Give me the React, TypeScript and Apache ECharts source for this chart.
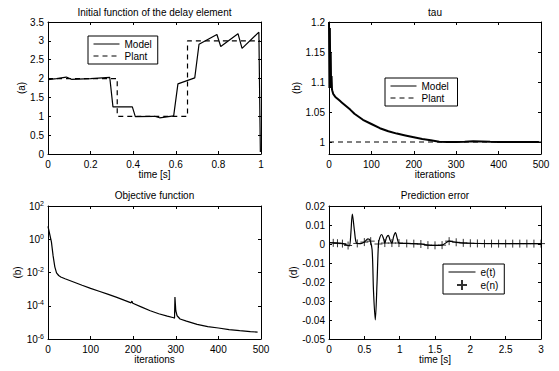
import React, { useEffect, useRef } from 'react';
import * as echarts from 'echarts';

const FONT = '"Liberation Sans", Arial, Helvetica, sans-serif';

// (a) Initial function of the delay element
const delayTime = [0, 0.04, 0.086, 0.11, 0.2, 0.29, 0.305, 0.396, 0.41, 0.5, 0.524, 0.59, 0.61, 0.689, 0.709, 0.793, 0.811, 0.892, 0.911, 0.99, 0.997];
const delayModel = [1.97, 2.0, 2.04, 1.98, 2.0, 2.03, 1.25, 1.25, 0.99, 1.0, 0.96, 1.01, 1.86, 2.02, 2.91, 3.17, 2.85, 3.19, 2.8, 3.23, 0.05];
const plantTime = [0, 0.325, 0.325, 0.655, 0.655, 0.995];
const plantValue = [2, 2, 1, 1, 3, 3];

// (b) tau
const tauIter = [0, 1, 2, 3, 4, 5, 6, 7, 8, 10, 12, 15, 20, 25, 30, 40, 50, 60, 70, 80, 100, 120, 140, 160, 180, 200, 220, 240, 260, 280, 300, 320, 340, 360, 380, 400, 420, 440, 460, 480, 495];
const tauModel = [1.2, 1.09, 1.19, 1.1, 1.15, 1.09, 1.11, 1.088, 1.085, 1.08, 1.078, 1.075, 1.072, 1.069, 1.066, 1.06, 1.054, 1.047, 1.042, 1.037, 1.03, 1.023, 1.018, 1.014, 1.011, 1.008, 1.005, 1.003, 1.0005, 1.0, 1.0, 1.0005, 1.0012, 1.001, 1.0005, 1.0002, 1.0, 1.0, 1.0, 1.0, 1.0];
const tauPlantIter = [0, 500];
const tauPlant = [1, 1];
const tauTicks = [1, 1.05, 1.1, 1.15, 1.2];

// (c) Objective function
const objIter = [0, 4, 8, 12, 16, 20, 25, 30, 40, 60, 80, 100, 120, 140, 160, 180, 195, 197, 199, 220, 240, 260, 280, 295, 297, 298, 300, 303, 310, 325, 350, 375, 400, 425, 450, 475, 492];
const objValue = [6, 2, 0.7, 0.1, 0.022, 0.0095, 0.0066, 0.0054, 0.0042, 0.0027, 0.0017, 0.0011, 7.4e-4, 5e-4, 3.3e-4, 2.1e-4, 1.5e-4, 1.9e-4, 1.4e-4, 8.3e-5, 5e-5, 3.3e-5, 2.4e-5, 1.9e-5, 1.8e-5, 3.4e-4, 5e-5, 2.5e-5, 1.6e-5, 1.2e-5, 7.6e-6, 5.6e-6, 4.6e-6, 3.7e-6, 3.2e-6, 2.8e-6, 2.6e-6];

// (d) Prediction error
const errTime = [0, 0.1, 0.2, 0.27, 0.29, 0.31, 0.33, 0.36, 0.39, 0.45, 0.5, 0.55, 0.58, 0.61, 0.63, 0.655, 0.68, 0.7, 0.72, 0.745, 0.77, 0.79, 0.815, 0.84, 0.865, 0.89, 0.915, 0.94, 0.965, 0.99, 1.1, 1.3, 1.4, 1.5, 1.6, 1.7, 1.8, 2.0, 2.5, 3.0];
const errValue = [0.0008, 0.0005, 0.0002, -0.0008, -0.001, 0.006, 0.0158, 0.007, 0.0005, 0.0002, 0.001, 0.0027, 0.002, -0.003, -0.025, -0.04, -0.02, 0, 0.0035, 0.005, 0.003, 0.0005, 0.0035, 0.0045, 0.002, 0.0005, 0.004, 0.006, 0.003, 0.0005, 0.0003, 0, -0.0006, -0.0007, -0.0006, 0.0015, 0.0009, 0.0004, 0.0002, 0.0002];
const sampTime = [0.06, 0.12, 0.19, 0.27, 0.4, 0.5, 0.59, 0.7, 0.79, 0.89, 0.99, 1.1, 1.2, 1.3, 1.4, 1.5, 1.6, 1.7, 1.8, 1.9, 2.0, 2.1, 2.2, 2.3, 2.4, 2.5, 2.6, 2.7, 2.8, 2.9, 3.0];
const sampValue = [0.0006, 0.0004, 0.0002, -0.0008, 0.0003, 0.001, 0.0015, 0, 0.0005, 0.0005, 0.0005, 0.0003, 0.0002, 0, -0.0006, -0.0007, -0.0006, 0.0015, 0.0009, 0.0006, 0.0004, 0.0003, 0.0002, 0.0002, 0.0002, 0.0002, 0.0002, 0.0002, 0.0002, 0.0002, 0.0002];

const titles = ['Initial function of the delay element', 'tau', 'Objective function', 'Prediction error'];

const zip = (a: number[], b: number[]) => a.map((v, i) => [v, b[i]]);

const grids = [
  { left: 48, top: 22, width: 213, height: 132 },
  { left: 329, top: 22, width: 212, height: 132 },
  { left: 48, top: 206, width: 213, height: 133 },
  { left: 329, top: 206, width: 212, height: 133 },
];

const txt = { color: '#000', fontFamily: FONT, fontSize: 10 };

function axisPair(kind: 'x' | 'y', gridIndex: number, base: any, label: any, name: string, nameGap: number) {
  const common = {
    gridIndex,
    axisLine: { show: true, onZero: false, lineStyle: { color: '#000', width: 1 } },
    splitLine: { show: false },
    ...base,
  };
  const tick = { show: true, inside: true, length: 3, lineStyle: { color: '#000', width: 1 }, ...(label.tickExtra || {}) };
  const main = {
    ...common,
    position: kind === 'x' ? 'bottom' : 'left',
    axisTick: tick,
    axisLabel: { ...txt, margin: kind === 'x' ? 5 : 4, ...(label.opts || {}) },
    name,
    nameLocation: 'middle',
    nameGap,
    nameRotate: kind === 'y' ? 90 : 0,
    nameTextStyle: { ...txt },
  };
  const other = {
    ...common,
    position: kind === 'x' ? 'top' : 'right',
    axisTick: tick,
    axisLabel: { show: false },
  };
  return [main, other];
}

const hidden = { opacity: 0 };

export default function App() {
  const ref = useRef<HTMLDivElement>(null);
  useEffect(() => {
    if (!ref.current) return;
    const chart = echarts.init(ref.current, null, { renderer: 'svg' });
    const xAxis = [
      ...axisPair('x', 0, { type: 'value', min: 0, max: 1, interval: 0.2 }, {}, 'time [s]', 14),
      ...axisPair('x', 1, { type: 'value', min: 0, max: 500, interval: 100 }, {}, 'iterations', 14),
      ...axisPair('x', 2, { type: 'value', min: 0, max: 500, interval: 100 }, {}, 'iterations', 14),
      ...axisPair('x', 3, { type: 'value', min: 0, max: 3, interval: 0.5 }, {}, 'time [s]', 14),
    ];
    const yAxis = [
      ...axisPair('y', 0, { type: 'value', min: 0, max: 3.5, interval: 0.5 }, {}, '(a)', 17),
      ...axisPair('y', 1, { type: 'value', min: 0.98, max: 1.2 },
        { opts: { customValues: tauTicks }, tickExtra: { customValues: tauTicks } }, '(b)', 25),
      ...axisPair('y', 2, { type: 'log', logBase: 10, min: 1e-6, max: 100, interval: 2 },
        {
          opts: {
            formatter: (v: number) => `{b|10}{s|${Math.round(Math.log10(v))}}`,
            rich: {
              b: { ...txt },
              s: { ...txt, fontSize: 7, verticalAlign: 'top', padding: [0, 0, 6, 0] },
            },
          },
        }, '(b)', 24),
      ...axisPair('y', 3, { type: 'value', min: -0.05, max: 0.02, interval: 0.01 }, {}, '(d)', 27),
    ];
    const lineBase = { type: 'line', symbol: 'none', showSymbol: false, silent: true };
    const centers = grids.map(g => g.left + g.width / 2);
    const legendBase = {
      orient: 'vertical', padding: [3, 6, 3, 5], itemGap: 2, itemHeight: 10,
      borderColor: '#000', borderWidth: 1, backgroundColor: '#fff', textStyle: { ...txt },
      selectedMode: false, lineStyle: { width: 1 },
    };
    chart.setOption({
      animation: false,
      backgroundColor: '#fff',
      textStyle: { fontFamily: FONT },
      grid: grids,
      xAxis,
      yAxis,
      legend: [
        {
          ...legendBase, left: 88, top: 36, itemWidth: 26,
          data: [{ name: 'Model', itemStyle: hidden }, { name: 'Plant', itemStyle: hidden }],
        },
        {
          ...legendBase, left: 385, top: 78, itemWidth: 26,
          data: [{ name: 'Model ', itemStyle: hidden }, { name: 'Plant ', itemStyle: hidden }],
        },
        {
          ...legendBase, left: 443, top: 264, itemWidth: 27,
          data: [{ name: 'e(t)', itemStyle: hidden }, { name: 'e(n)' }],
        },
      ],
      graphic: titles.map((t, i) => ({
        type: 'text', x: centers[i], y: i < 2 ? 7 : 190,
        style: { text: t, ...txt, fill: '#000', textAlign: 'center' },
      })),
      series: [
        { ...lineBase, name: 'Model', xAxisIndex: 0, yAxisIndex: 0, data: zip(delayTime, delayModel), lineStyle: { color: '#000', width: 1.2 }, itemStyle: { color: '#000' } },
        { ...lineBase, name: 'Plant', xAxisIndex: 0, yAxisIndex: 0, data: zip(plantTime, plantValue), lineStyle: { color: '#000', width: 1.2, type: [5, 4] }, itemStyle: { color: '#000' } },
        { ...lineBase, name: 'Plant ', xAxisIndex: 2, yAxisIndex: 2, data: zip(tauPlantIter, tauPlant), lineStyle: { color: '#000', width: 1.2, type: [5, 4] }, itemStyle: { color: '#000' } },
        { ...lineBase, name: 'Model ', xAxisIndex: 2, yAxisIndex: 2, data: zip(tauIter, tauModel), lineStyle: { color: '#000', width: 2 }, itemStyle: { color: '#000' } },
        { ...lineBase, name: 'J', xAxisIndex: 4, yAxisIndex: 4, data: zip(objIter, objValue), lineStyle: { color: '#000', width: 1.2 } },
        { ...lineBase, name: 'e(t)', xAxisIndex: 6, yAxisIndex: 6, data: zip(errTime, errValue), smooth: 0.3, lineStyle: { color: '#000', width: 1.2 }, itemStyle: { color: '#000' } },
        {
          type: 'scatter', name: 'e(n)', xAxisIndex: 6, yAxisIndex: 6, silent: true,
          data: zip(sampTime, sampValue),
          symbol: 'path://M0,5L10,5M5,0L5,10', symbolSize: 8,
          itemStyle: { color: 'rgba(0,0,0,0)', borderColor: '#000', borderWidth: 1 },
        },
      ],
    });
    return () => chart.dispose();
  }, []);
  return <div ref={ref} style={{ position: 'fixed', left: 0, top: 0, width: 559, height: 371, background: '#fff' }} />;
}
